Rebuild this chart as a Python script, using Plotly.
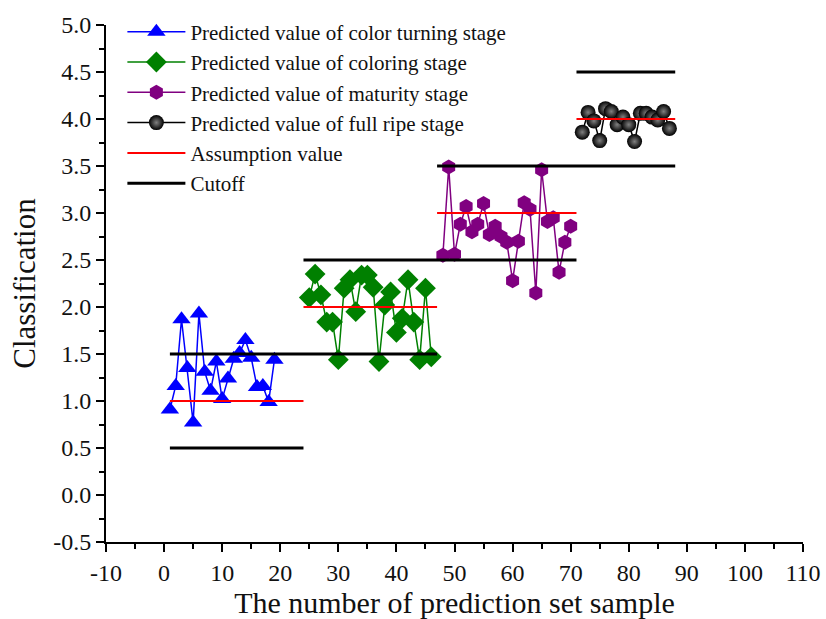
import plotly.graph_objects as go

# ---- data ----
turning_x = list(range(1, 20))
turning_y = [0.91, 1.16, 1.87, 1.35, 0.77, 1.93, 1.31, 1.11, 1.42, 1.02,
             1.24, 1.45, 1.51, 1.65, 1.46, 1.15, 1.16, 0.99, 1.44]

coloring_x = list(range(25, 47))
coloring_y = [2.10, 2.35, 2.13, 1.84, 1.84, 1.44, 2.20, 2.29, 1.95, 2.34,
              2.34, 2.21, 1.42, 2.02, 2.16, 1.73, 1.88, 2.29, 1.84, 1.44,
              2.20, 1.47]

maturity_x = list(range(48, 71))
maturity_y = [2.55, 3.49, 2.56, 2.88, 3.07, 2.80, 2.88, 3.10, 2.77, 2.86,
              2.75, 2.69, 2.28, 2.70, 3.11, 3.04, 2.15, 3.46, 2.91, 2.95,
              2.37, 2.69, 2.86]

ripe_x = list(range(72, 88))
ripe_y = [3.86, 4.07, 3.98, 3.77, 4.11, 4.08, 3.94, 4.02, 3.94, 3.76,
          4.06, 4.06, 4.02, 3.99, 4.08, 3.90]

assume_start = [1, 24, 47, 71]
assume_end = [24, 47, 71, 88]
assume_val = [1.0, 2.0, 3.0, 4.0]

cut_start = [1, 1, 24, 47, 71]
cut_end = [24, 47, 71, 88, 88]
cut_val = [0.5, 1.5, 2.5, 3.5, 4.5]

x_ticks = list(range(-10, 111, 10))
x_ticktext = [str(v) for v in x_ticks]
y_ticks = [-0.5, 0.0, 0.5, 1.0, 1.5, 2.0, 2.5, 3.0, 3.5, 4.0, 4.5, 5.0]
y_ticktext = ["%.1f" % v for v in y_ticks]


def segs(starts, ends, vals):
    xs, ys = [], []
    for a, b, v in zip(starts, ends, vals):
        xs += [a, b, None]
        ys += [v, v, None]
    return xs, ys


FONT = "Liberation Serif"
fig = go.Figure()

fig.add_trace(go.Scatter(
    x=turning_x, y=turning_y, mode="lines+markers",
    name="Predicted value of color turning stage",
    line=dict(color="#0000ff", width=1.5),
    marker=dict(symbol="triangle-up", size=16, color="#0000ff", line=dict(width=0))))
fig.add_trace(go.Scatter(
    x=coloring_x, y=coloring_y, mode="lines+markers",
    name="Predicted value of coloring stage",
    line=dict(color="#008000", width=1.5),
    marker=dict(symbol="diamond", size=16, color="#008000", line=dict(width=0))))
fig.add_trace(go.Scatter(
    x=maturity_x, y=maturity_y, mode="lines+markers",
    name="Predicted value of maturity stage",
    line=dict(color="#800080", width=1.5),
    marker=dict(symbol="hexagon", size=15, color="#800080", line=dict(width=0))))
fig.add_trace(go.Scatter(
    x=ripe_x, y=ripe_y, mode="lines+markers",
    name="Predicted value of full ripe stage",
    line=dict(color="#000000", width=1.5),
    marker=dict(symbol="circle", size=15, color="#000000",
                gradient=dict(type="radial", color="#808080"),
                line=dict(width=0))))

ax, ay = segs(assume_start, assume_end, assume_val)
fig.add_trace(go.Scatter(x=ax, y=ay, mode="lines", name="Assumption value",
                         line=dict(color="#ff0000", width=2)))
cx, cy = segs(cut_start, cut_end, cut_val)
fig.add_trace(go.Scatter(x=cx, y=cy, mode="lines", name="Cutoff",
                         line=dict(color="#000000", width=3)))

axis_common = dict(
    showline=True, linecolor="black", linewidth=2,
    ticks="outside", ticklen=8, tickwidth=2, tickcolor="black",
    showgrid=False, zeroline=False, mirror=False, automargin=False,
    tickfont=dict(family=FONT, size=24, color="#111"),
)

fig.update_xaxes(range=[-10, 110], tickvals=x_ticks, ticktext=x_ticktext,
                 minor=dict(dtick=5, ticks="outside", ticklen=5, tickwidth=2, tickcolor="black"),
                 title=dict(text="The number of prediction set sample",
                            font=dict(family=FONT, size=30, color="#111"), standoff=6),
                 **axis_common)
fig.update_yaxes(range=[-0.5, 5.0], tickvals=y_ticks, ticktext=y_ticktext,
                 minor=dict(dtick=0.25, ticks="outside", ticklen=5, tickwidth=2, tickcolor="black"),
                 title=dict(text="Classification",
                            font=dict(family=FONT, size=31, color="#111"), standoff=8),
                 **axis_common)

fig.update_layout(
    width=826, height=619,
    margin=dict(l=106, r=23, t=13, b=77),
    plot_bgcolor="white", paper_bgcolor="white",
    font=dict(family=FONT, color="#111"),
    legend=dict(x=0.0235, y=1.026, xanchor="left", yanchor="top",
                bgcolor="rgba(0,0,0,0)", font=dict(family=FONT, size=21, color="#111"),
                itemwidth=58, tracegroupgap=0),
)

fig.write_html("out.html", config={"displayModeBar": False},
               post_script="document.body.style.margin='0';")
